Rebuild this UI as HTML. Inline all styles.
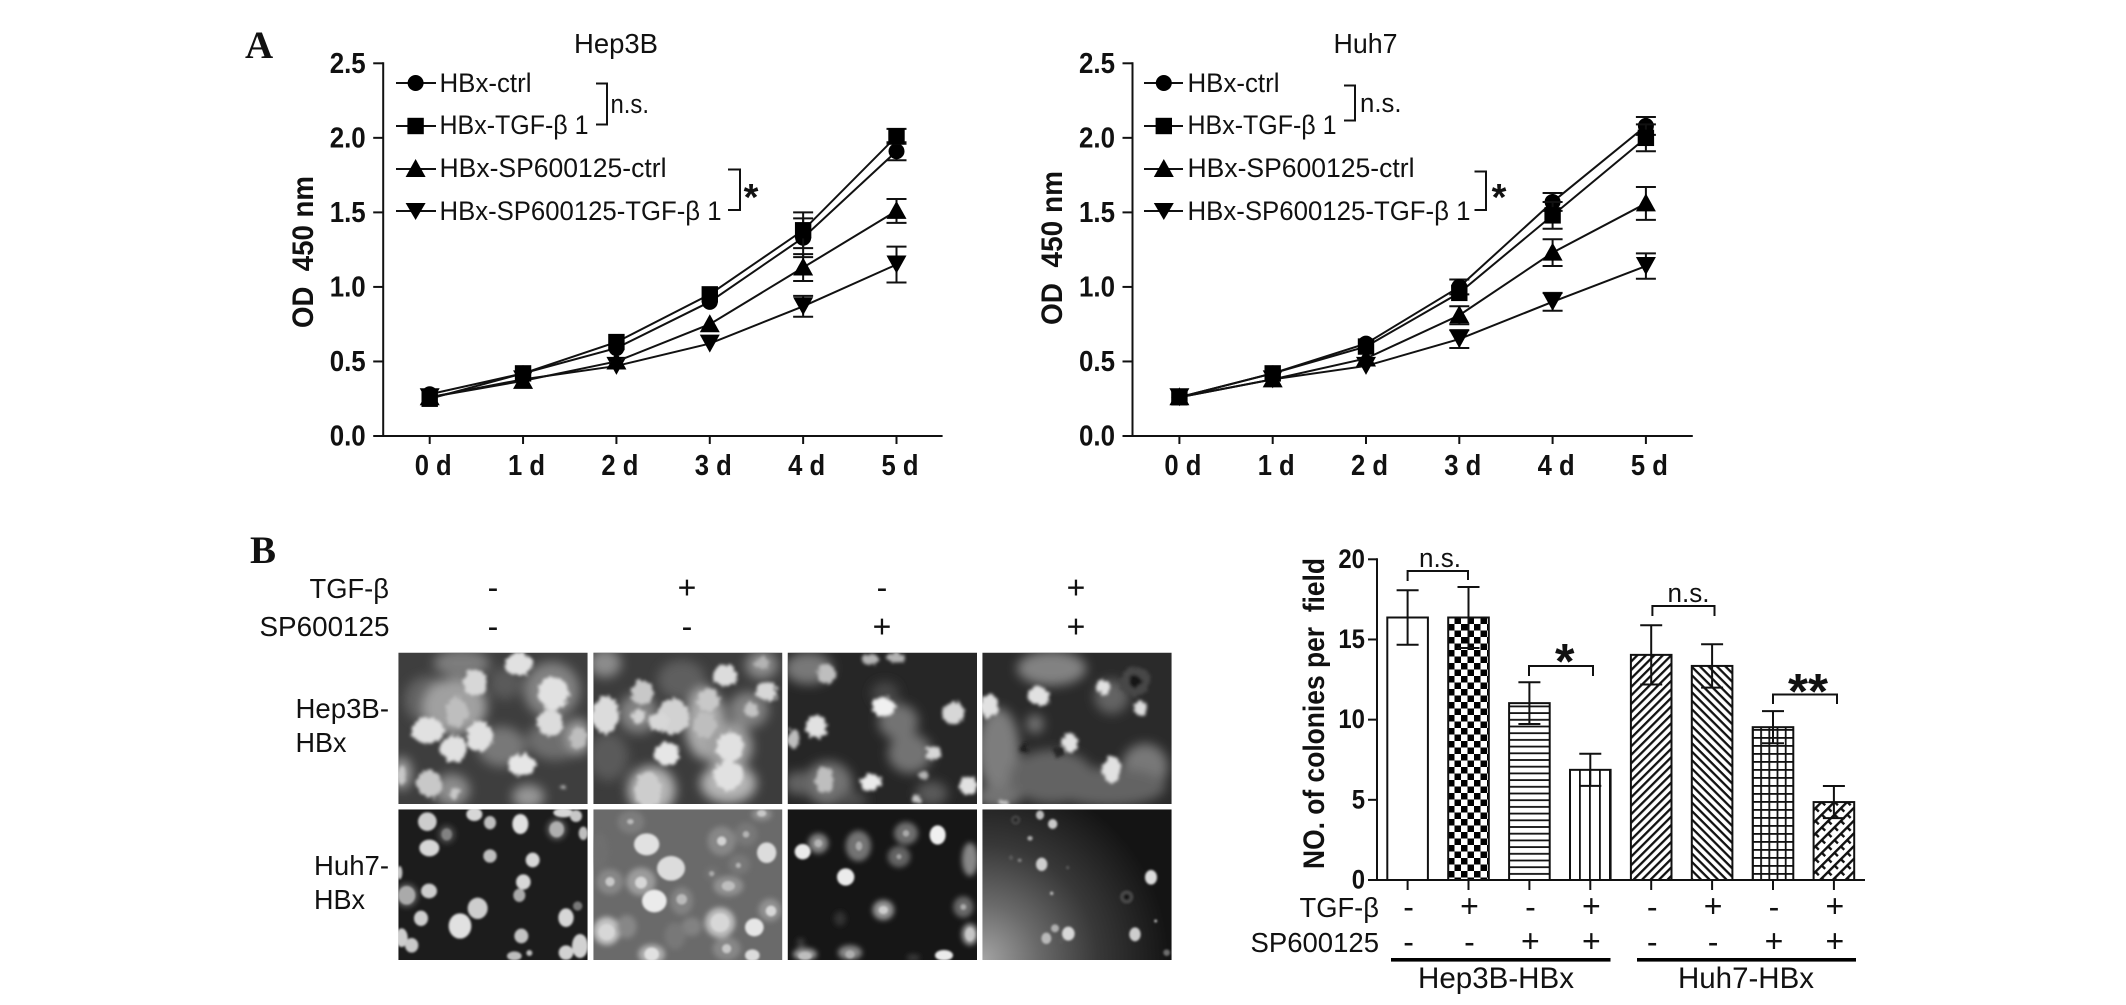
<!DOCTYPE html>
<html lang="en">
<head>
<meta charset="utf-8">
<title>HBx TGF-β proliferation and colony formation</title>
<style>
html,body{margin:0;padding:0;background:#fff;}
svg{display:block;}
text{font-family:"Liberation Sans",sans-serif;fill:#111;}
.b{font-weight:700;}
.serif{font-family:"Liberation Serif",serif;font-weight:700;}
.ax{stroke:#111;stroke-width:2;fill:none;}
</style>
</head>
<body>
<svg id="fig" xmlns="http://www.w3.org/2000/svg" width="2126" height="1005" viewBox="0 0 2126 1005">
<defs>
<filter id="soft" x="-60%" y="-60%" width="220%" height="220%"><feGaussianBlur stdDeviation="17"/></filter>
<filter id="soft2" x="-60%" y="-60%" width="220%" height="220%"><feGaussianBlur stdDeviation="8"/></filter>
<filter id="crisp" x="-40%" y="-40%" width="180%" height="180%"><feGaussianBlur stdDeviation="3.5"/></filter>
<filter id="rough" x="-20%" y="-20%" width="140%" height="140%">
  <feTurbulence type="fractalNoise" baseFrequency=".07" numOctaves="2" seed="4" result="n"/>
  <feDisplacementMap in="SourceGraphic" in2="n" scale="24" xChannelSelector="R" yChannelSelector="G"/>
  <feGaussianBlur stdDeviation="5"/>
</filter>
<radialGradient id="p8bg" gradientUnits="userSpaceOnUse" cx="592" cy="462" r="560">
<stop offset="0" stop-color="#a4a4a4"/><stop offset=".3" stop-color="#6a6a6a"/><stop offset=".62" stop-color="#383838"/><stop offset="1" stop-color="#141414"/>
</radialGradient>
<pattern id="pat-check" patternUnits="userSpaceOnUse" x="1448" width="13" height="13"><rect width="13" height="13" fill="#fff"/><rect width="6.5" height="6.5" fill="#000"/><rect x="6.5" y="6.5" width="6.5" height="6.5" fill="#000"/></pattern>
<pattern id="pat-h" patternUnits="userSpaceOnUse" width="10" height="6.7"><rect width="10" height="6.7" fill="#fff"/><rect y="2" width="10" height="1.8" fill="#111"/></pattern>
<pattern id="pat-v" patternUnits="userSpaceOnUse" x="1579" width="10" height="10"><rect width="10" height="10" fill="#fff"/><rect x="0" width="1.8" height="10" fill="#111"/></pattern>
<pattern id="pat-fd" patternUnits="userSpaceOnUse" width="6" height="6" patternTransform="rotate(-45)"><rect width="6" height="6" fill="#fff"/><rect y="0" width="6" height="2.3" fill="#111"/></pattern>
<pattern id="pat-bd" patternUnits="userSpaceOnUse" width="6" height="6" patternTransform="rotate(45)"><rect width="6" height="6" fill="#fff"/><rect y="0" width="6" height="2.3" fill="#111"/></pattern>
<pattern id="pat-grid" patternUnits="userSpaceOnUse" x="1752" y="1" width="8.2" height="8"><rect width="8.2" height="8" fill="#fff"/><rect width="1.8" height="8" fill="#111"/><rect width="8.2" height="1.8" fill="#111"/></pattern>
<pattern id="pat-cross" patternUnits="userSpaceOnUse" width="9" height="9" patternTransform="rotate(-45)"><rect width="9" height="9" fill="#fff"/><rect width="9" height="2.4" fill="#111"/><rect x="0" y="0" width="2.4" height="6" fill="#111"/></pattern>
</defs>

<text class="serif" x="245" y="58" font-size="39">A</text>
<text class="serif" x="250" y="563" font-size="39">B</text>

<g id="hep3b-chart">
  <text x="574" y="53" font-size="28" textLength="84" lengthAdjust="spacingAndGlyphs">Hep3B</text>
  <text class="b" transform="translate(313,252) rotate(-90)" text-anchor="middle" font-size="30" textLength="152" lengthAdjust="spacingAndGlyphs" xml:space="preserve">OD  450 nm</text>
  <g>
    <line class="ax" x1="396" x2="436" y1="83" y2="83"/><circle cx="415.6" cy="83" r="8" fill="#000"/>
    <text x="439.5" y="92" font-size="27" textLength="92" lengthAdjust="spacingAndGlyphs">HBx-ctrl</text>
    <line class="ax" x1="396" x2="436" y1="126" y2="126"/><rect x="407.4" y="117.8" width="16.4" height="16.4" fill="#000"/>
    <text x="439.5" y="134" font-size="27" textLength="149" lengthAdjust="spacingAndGlyphs">HBx-TGF-β 1</text>
    <line class="ax" x1="396" x2="436" y1="169" y2="169"/><polygon points="415.6,159 425.6,177 405.6,177" fill="#000"/>
    <text x="439.5" y="177" font-size="27" textLength="227" lengthAdjust="spacingAndGlyphs">HBx-SP600125-ctrl</text>
    <line class="ax" x1="396" x2="436" y1="211" y2="211"/><polygon points="405.6,203 425.6,203 415.6,220" fill="#000"/>
    <text x="439.5" y="220" font-size="27" textLength="282" lengthAdjust="spacingAndGlyphs">HBx-SP600125-TGF-β 1</text>
    <path class="ax" d="M596 83.5H607V124.5H596"/>
    <text x="610.5" y="113" font-size="27" textLength="38.5" lengthAdjust="spacingAndGlyphs">n.s.</text>
    <path class="ax" d="M728 169.5H740V210H728"/>
    <text class="b" x="751" y="210" font-size="38" text-anchor="middle">*</text>
  </g>
</g>

<g id="huh7-chart">
  <text x="1333.5" y="53" font-size="28" textLength="64" lengthAdjust="spacingAndGlyphs">Huh7</text>
  <text class="b" transform="translate(1062,248) rotate(-90)" text-anchor="middle" font-size="30" textLength="154" lengthAdjust="spacingAndGlyphs" xml:space="preserve">OD  450 nm</text>
  <g>
    <line class="ax" x1="1144" x2="1183" y1="83" y2="83"/><circle cx="1163.8" cy="83" r="8" fill="#000"/>
    <text x="1187.5" y="92" font-size="27" textLength="92" lengthAdjust="spacingAndGlyphs">HBx-ctrl</text>
    <line class="ax" x1="1144" x2="1183" y1="126" y2="126"/><rect x="1155.6" y="117.8" width="16.4" height="16.4" fill="#000"/>
    <text x="1187.5" y="134" font-size="27" textLength="149" lengthAdjust="spacingAndGlyphs">HBx-TGF-β 1</text>
    <line class="ax" x1="1144" x2="1183" y1="169" y2="169"/><polygon points="1163.8,159 1173.8,177 1153.8,177" fill="#000"/>
    <text x="1187.5" y="177" font-size="27" textLength="227" lengthAdjust="spacingAndGlyphs">HBx-SP600125-ctrl</text>
    <line class="ax" x1="1144" x2="1183" y1="211" y2="211"/><polygon points="1153.8,203 1173.8,203 1163.8,220" fill="#000"/>
    <text x="1187.5" y="220" font-size="27" textLength="283" lengthAdjust="spacingAndGlyphs">HBx-SP600125-TGF-β 1</text>
    <path class="ax" d="M1344 85.5H1355V120.5H1344"/>
    <text x="1360" y="112" font-size="27" textLength="41.5" lengthAdjust="spacingAndGlyphs">n.s.</text>
    <path class="ax" d="M1474.5 171.5H1486V210H1474.5"/>
    <text class="b" x="1499" y="210" font-size="38" text-anchor="middle">*</text>
  </g>
</g>

<g>
  <text x="309.5" y="598" font-size="28" textLength="79.5" lengthAdjust="spacingAndGlyphs">TGF-β</text>
  <text x="259.5" y="636" font-size="28" textLength="130" lengthAdjust="spacingAndGlyphs">SP600125</text>
  <text x="295.5" y="718" font-size="28" textLength="93.5" lengthAdjust="spacingAndGlyphs">Hep3B-</text>
  <text x="295.5" y="752" font-size="28" textLength="51" lengthAdjust="spacingAndGlyphs">HBx</text>
  <text x="314" y="875" font-size="28" textLength="75" lengthAdjust="spacingAndGlyphs">Huh7-</text>
  <text x="314" y="909" font-size="28" textLength="51" lengthAdjust="spacingAndGlyphs">HBx</text>
</g>
<g id="photo-signs"></g>
<g id="photos"></g>

<g id="bar-chart">
  <text class="b" transform="translate(1324,713.5) rotate(-90)" text-anchor="middle" font-size="30" textLength="311" lengthAdjust="spacingAndGlyphs" xml:space="preserve">NO. of colonies per  field</text>
</g>
<g id="bar-annot">
  <path class="ax" d="M1407.6 581V571H1468V580"/>
  <text x="1419" y="567" font-size="27" textLength="42" lengthAdjust="spacingAndGlyphs">n.s.</text>
  <path class="ax" d="M1652.4 616V606H1714.5V616"/>
  <text x="1667.5" y="602" font-size="27" textLength="42" lengthAdjust="spacingAndGlyphs">n.s.</text>
  <path class="ax" d="M1529 676V666H1593V676"/>
  <text class="b" x="1564.7" y="678.5" font-size="50" text-anchor="middle">*</text>
  <path class="ax" d="M1773 704V694.5H1837V704"/>
  <text class="b" x="1788" y="708.5" font-size="50" textLength="40" lengthAdjust="spacingAndGlyphs">**</text>
  <text x="1299.5" y="917" font-size="28" textLength="79.5" lengthAdjust="spacingAndGlyphs">TGF-β</text>
  <text x="1250.5" y="952" font-size="28" textLength="128.5" lengthAdjust="spacingAndGlyphs">SP600125</text>
  <rect x="1391" y="958" width="219.5" height="3.6" fill="#000"/>
  <rect x="1637" y="958" width="219" height="3.6" fill="#000"/>
  <text x="1418" y="988" font-size="30" textLength="156" lengthAdjust="spacingAndGlyphs">Hep3B-HBx</text>
  <text x="1678" y="988" font-size="30" textLength="136" lengthAdjust="spacingAndGlyphs">Huh7-HBx</text>
</g>

<script>
// ---- line chart data ----
const days = ['0 d','1 d','2 d','3 d','4 d','5 d'];
const odTicks = [0,0.5,1,1.5,2,2.5];
const odTickLabels = ['0.0','0.5','1.0','1.5','2.0','2.5'];

const hepCtrl   = [0.28,0.42,0.59,0.90,1.33,1.91];
const hepTgf    = [0.25,0.42,0.63,0.95,1.38,2.01];
const hepSp     = [0.26,0.37,0.50,0.75,1.13,1.51];
const hepSpTgf  = [0.26,0.38,0.47,0.62,0.87,1.15];
const hepCtrlErr  = [0,0,0,0,0.13,0.06];
const hepTgfErr   = [0,0,0,0,0.12,0.05];
const hepSpErr    = [0,0,0,0,0.09,0.08];
const hepSpTgfErr = [0,0,0,0,0.07,0.12];

const huhCtrl   = [0.26,0.42,0.62,1.00,1.57,2.08];
const huhTgf    = [0.26,0.42,0.60,0.96,1.48,2.00];
const huhSp     = [0.26,0.38,0.52,0.81,1.23,1.56];
const huhSpTgf  = [0.26,0.38,0.47,0.65,0.90,1.14];
const huhCtrlErr  = [0,0,0,0.05,0.06,0.06];
const huhTgfErr   = [0,0,0,0,0.09,0.09];
const huhSpErr    = [0,0,0,0.06,0.09,0.11];
const huhSpTgfErr = [0,0,0,0.06,0.06,0.085];

// ---- bar chart data ----
const barNames = ['hep3b-ctrl','hep3b-tgf','hep3b-sp','hep3b-sp-tgf','huh7-ctrl','huh7-tgf','huh7-sp','huh7-sp-tgf'];
const barValues = [16.37,16.37,11.03,6.87,14.04,13.35,9.53,4.86];
const barErrors = [1.7,1.9,1.3,1.0,1.85,1.35,1.0,1.0];
const barPatterns = ['#fff','url(#pat-check)','url(#pat-h)','url(#pat-v)','url(#pat-fd)','url(#pat-bd)','url(#pat-grid)','url(#pat-cross)'];
const barTicks = [0,5,10,15,20];
const tgfSigns = ['-','+','-','+','-','+','-','+'];
const spSigns  = ['-','-','+','+','-','-','+','+'];

// ---- photo blobs: cx, cy, rx, ry, grey (coordinates in 3x crop space) ----
const photoFrames = [
 {n:'hep3b-ctrl',ox:395,oy:650,x:10,y:8,w:568,h:454,bg:'#3e3e3e',sf:'soft',cf:'rough',k:1.2,kc:1.1,
  soft:[[200,40,70,35,125],[470,120,70,70,130],[100,150,60,60,100],[320,290,60,50,120],[480,270,70,50,110],[180,170,80,70,160],[170,420,45,40,140],[400,440,40,30,150],[20,370,25,40,160],[550,260,30,45,160],[330,100,40,40,90]],
  crisp:[[372,42,38,32,225],[240,100,34,36,215],[475,130,42,45,225],[465,218,36,36,220],[98,242,44,36,225],[176,296,36,36,225],[253,258,36,42,225],[380,345,38,30,230],[103,402,34,38,200],[185,185,30,40,190],[550,265,22,30,190],[178,430,14,14,200],[505,412,6,6,200],[20,375,12,25,200]]},
 {n:'hep3b-tgf',ox:395,oy:650,x:595,y:8,w:567,h:454,bg:'#3c3c3c',sf:'soft',cf:'rough',k:1.2,kc:1.1,
  soft:[[860,90,60,50,95],[630,40,40,35,140],[1100,45,40,35,140],[770,420,60,60,180],[1000,400,70,50,180],[930,220,50,90,170],[1060,180,50,45,130],[640,320,50,60,90],[730,190,50,50,130],[1000,290,60,60,160]],
  crisp:[[632,195,36,52,220],[742,128,30,36,200],[990,77,34,28,220],[1115,125,28,28,215],[835,200,44,50,210],[790,215,30,25,215],[730,198,18,20,210],[940,150,30,32,200],[930,225,32,35,190],[815,312,34,32,230],[1005,290,36,40,225],[1000,375,40,40,225],[1070,180,18,20,195],[760,420,35,50,205],[1100,40,20,15,180]]},
 {n:'hep3b-sp',ox:785,oy:650,x:8,y:8,w:568,h:454,bg:'#262626',sf:'soft',cf:'rough',k:1.2,kc:1.05,
  soft:[[70,55,60,40,120],[340,215,50,45,115],[375,310,55,50,115],[130,400,60,55,115],[40,400,35,30,100],[300,130,35,30,70],[440,430,40,30,90],[200,450,40,20,80]],
  crisp:[[125,70,26,28,190],[255,28,24,16,180],[333,22,26,14,180],[297,170,32,28,240],[505,190,32,32,215],[95,230,30,32,225],[25,265,16,28,190],[445,310,22,18,215],[118,390,26,38,190],[415,375,14,12,180],[258,397,30,24,235],[550,407,26,28,225],[395,448,14,12,200]]},
 {n:'hep3b-sp-tgf',ox:785,oy:650,x:592,y:8,w:568,h:454,bg:'#2a2a2a',sf:'soft',cf:'rough',k:1.15,kc:1.05,
  soft:[[800,55,90,45,130],[640,300,55,110,125],[800,380,110,70,100],[1080,350,60,60,120],[970,410,150,50,100],[980,140,45,45,100],[750,222,22,24,120],[640,440,60,30,115]],
  crisp:[[1050,95,42,42,70],[1050,95,18,16,18],[715,297,12,12,30],[820,305,14,14,40],[762,138,32,27,225],[956,110,20,20,225],[1068,175,17,22,220],[612,168,26,34,225],[855,278,25,25,225],[980,358,26,38,225],[655,455,14,8,210]]},
 {n:'huh7-ctrl',ox:395,oy:806,x:10,y:10,w:568,h:452,bg:'#1c1c1c',sf:'soft2',cf:'crisp',k:1,kc:1,
  soft:[[35,268,34,36,90],[155,85,26,28,70],[485,70,30,32,90]],
  crisp:[[97,47,28,28,205],[155,85,16,18,130],[238,25,24,20,215],[285,50,18,20,190],[376,54,24,30,225],[103,126,30,25,215],[285,150,20,20,190],[413,162,21,22,215],[485,70,22,24,175],[565,82,14,20,190],[505,20,30,14,215],[543,30,18,18,200],[14,200,8,20,200],[35,268,26,28,170],[102,255,24,22,205],[385,228,22,23,215],[373,268,18,20,170],[248,307,30,32,205],[548,300,14,14,120],[78,337,21,23,205],[513,335,23,28,215],[195,360,34,38,225],[20,395,18,28,205],[50,418,20,22,200],[379,390,21,22,195],[513,440,22,22,210],[555,420,24,36,210],[358,450,22,14,190],[403,441,9,9,190]]},
 {n:'huh7-tgf',ox:395,oy:806,x:595,y:10,w:567,h:452,bg:'#6a6a6a',sf:'soft2',cf:'crisp',k:1,kc:1,
  soft:[[708,48,40,35,125],[980,105,42,44,135],[1053,85,34,35,120],[1033,175,32,30,120],[950,203,20,20,115],[1000,240,45,30,145],[645,227,40,38,135],[738,227,44,42,155],[860,285,34,42,130],[1125,312,34,34,145],[635,375,40,42,195],[695,362,30,35,135],[890,362,30,28,130],[975,350,45,45,190],[840,390,32,40,120],[995,428,42,35,135],[770,445,40,30,175],[1100,25,30,18,145],[615,140,25,60,110]],
  crisp:[[755,115,38,33,225],[828,187,42,37,220],[1115,140,29,31,220],[778,285,37,34,235],[1078,364,28,27,230],[1072,448,22,18,220],[980,105,14,14,210],[1053,85,10,10,180],[1030,178,8,8,180],[645,227,14,14,200],[738,230,18,18,215],[860,280,16,16,185],[1128,315,16,16,215],[975,350,28,28,215],[635,378,24,24,215],[1000,240,20,15,190],[995,428,14,14,200],[770,445,22,20,225],[950,203,8,8,170],[1100,22,14,10,200],[706,47,10,8,185]]},
 {n:'huh7-sp',ox:785,oy:806,x:8,y:10,w:568,h:452,bg:'#161616',sf:'soft2',cf:'crisp',k:1,kc:1,
  soft:[[100,112,30,30,130],[220,120,38,46,115],[363,82,36,34,110],[342,152,34,32,100],[295,312,32,30,150],[535,303,30,32,105],[555,160,24,50,135],[555,385,24,32,165],[195,440,36,22,135],[60,445,36,18,160],[165,338,18,22,50],[47,410,12,14,60],[385,455,20,10,60]],
  crisp:[[53,137,24,23,235],[458,87,24,29,240],[182,213,26,26,235],[100,112,12,12,180],[222,120,10,14,170],[363,82,10,10,170],[342,152,8,8,160],[295,312,14,12,205],[555,385,14,20,200],[60,450,20,12,190],[195,445,14,12,175],[477,448,27,16,235],[535,303,9,9,170]]},
 {n:'huh7-sp-tgf',ox:785,oy:806,x:592,y:10,w:568,h:452,bg:'url(#p8bg)',sf:'soft2',cf:'crisp',k:1,kc:1,
  soft:[],
  crisp:[[765,27,12,14,190],[803,54,14,15,200],[770,175,17,20,205],[1098,214,18,22,220],[1050,385,17,21,205],[850,383,19,21,215],[784,397,15,17,185],[810,367,12,12,175],[735,97,8,7,170],[800,262,5,5,190],[1112,345,4,4,220],[704,163,6,5,130],[678,155,6,7,90],[848,185,5,5,90],[826,407,7,6,90],[1145,440,10,10,110],[1025,273,20,20,70],[1025,273,9,9,25],[692,42,14,14,70],[692,42,7,7,40]]}
];

const SVGNS = 'http://www.w3.org/2000/svg';
function mk(parent, tag, attrs, txt) {
  const e = document.createElementNS(SVGNS, tag);
  for (const k in attrs) e.setAttribute(k, attrs[k]);
  if (txt !== undefined) e.textContent = txt;
  parent.appendChild(e);
  return e;
}

function drawLineChart(root, prefix, cfg, seriesList) {
  const yScale = v => cfg.y0 - (v / cfg.yMax) * (cfg.y0 - cfg.yTop);
  const xScale = i => cfg.x0 + i * cfg.step;
  const yAxis = mk(root, 'line', {class:'ax', x1:cfg.axX, x2:cfg.axX, y1:cfg.yTop - 1, y2:cfg.y0 + 1});
  
  
  const xAxis = mk(root, 'line', {class:'ax', x1:cfg.axX - 1, x2:cfg.axEnd, y1:cfg.y0, y2:cfg.y0});
  
  
  odTicks.forEach((t, i) => {
    const y = yScale(t);
    const tk = mk(root, 'line', {class:'ax', x1:cfg.axX - 10, x2:cfg.axX, y1:y, y2:y});
    
    
    const lb = mk(root, 'text', {class:'b', x:cfg.axX - 53.5, y:y + 9.5, 'font-size':29, textLength:36, lengthAdjust:'spacingAndGlyphs'}, odTickLabels[i]);
    
    
  });
  days.forEach((d, i) => {
    const x = xScale(i);
    const tk = mk(root, 'line', {class:'ax', x1:x, x2:x, y1:cfg.y0, y2:cfg.y0 + 8});
    
    
    const lb = mk(root, 'text', {class:'b', x:x - 15, y:475, 'font-size':29, textLength:37, lengthAdjust:'spacingAndGlyphs'}, d);
    
    
  });
  seriesList.forEach(s => {
    const g = mk(root, 'g', {});
    
    
    const pts = s.values.map((v, i) => xScale(i) + ',' + yScale(v)).join(' ');
    const ln = mk(g, 'polyline', {class:'ax', points:pts});
    
    
    s.values.forEach((v, i) => {
      const x = xScale(i), y = yScale(v), e = s.err[i];
      if (e > 0) {
        const eb = mk(g, 'path', {class:'ax', d:`M${x - 10} ${yScale(v + e)}H${x + 10}M${x} ${yScale(v + e)}V${yScale(v - e)}M${x - 10} ${yScale(v - e)}H${x + 10}`});
        
        
      }
      let m;
      if (s.shape === 'circle') m = mk(g, 'circle', {cx:x, cy:y, r:8, fill:'#000'});
      else if (s.shape === 'square') m = mk(g, 'rect', {x:x - 8.2, y:y - 8.2, width:16.4, height:16.4, fill:'#000'});
      else if (s.shape === 'up') m = mk(g, 'polygon', {points:`${x},${y - 10} ${x + 10},${y + 8} ${x - 10},${y + 8}`, fill:'#000'});
      else m = mk(g, 'polygon', {points:`${x - 10},${y - 9} ${x + 10},${y - 9} ${x},${y + 9}`, fill:'#000'});
      
      
    });
  });
}

drawLineChart(document.getElementById('hep3b-chart'), 'hep3b',
  {axX:383.2, axEnd:942.6, x0:429.7, step:93.36, y0:436, yTop:63.3, yMax:2.5},
  [{name:'sp-tgf', values:hepSpTgf, err:hepSpTgfErr, shape:'down'},
   {name:'sp', values:hepSp, err:hepSpErr, shape:'up'},
   {name:'ctrl', values:hepCtrl, err:hepCtrlErr, shape:'circle'},
   {name:'tgf', values:hepTgf, err:hepTgfErr, shape:'square'}]);

drawLineChart(document.getElementById('huh7-chart'), 'huh7',
  {axX:1132.5, axEnd:1692.8, x0:1179.4, step:93.3, y0:436, yTop:63.3, yMax:2.5},
  [{name:'sp-tgf', values:huhSpTgf, err:huhSpTgfErr, shape:'down'},
   {name:'sp', values:huhSp, err:huhSpErr, shape:'up'},
   {name:'ctrl', values:huhCtrl, err:huhCtrlErr, shape:'circle'},
   {name:'tgf', values:huhTgf, err:huhTgfErr, shape:'square'}]);

// ---- bar chart ----
(function () {
  const root = document.getElementById('bar-chart');
  const y0 = 880, yTop = 559.3, yMax = 20;
  const yScale = v => y0 - (v / yMax) * (y0 - yTop);
  const bx0 = 1407.6, bStep = 60.9, bw = 40.6;
  const xScale = i => bx0 + i * bStep;
  barValues.forEach((v, i) => {
    const x = xScale(i), y = yScale(v);
    const r = mk(root, 'rect', {x:x - bw / 2, y:y, width:bw, height:y0 - y, fill:barPatterns[i], stroke:'#111', 'stroke-width':2});
    
    
    const e = barErrors[i];
    const eb = mk(root, 'path', {class:'ax', d:`M${x - 11} ${yScale(v + e)}H${x + 11}M${x} ${yScale(v + e)}V${yScale(v - e)}M${x - 11} ${yScale(v - e)}H${x + 11}`});
    
    
    const tk = mk(root, 'line', {class:'ax', x1:x, x2:x, y1:y0, y2:y0 + 10});
    
    
    const s1 = mk(root, 'text', {x:x + 1, y:tgfSigns[i] === '+' ? 917 : 918, 'font-size':32, 'text-anchor':'middle'}, tgfSigns[i]);
    
    
    const s2 = mk(root, 'text', {x:x + 1, y:spSigns[i] === '+' ? 952 : 953, 'font-size':32, 'text-anchor':'middle'}, spSigns[i]);
    
    
  });
  const ya = mk(root, 'line', {class:'ax', x1:1377, x2:1377, y1:yTop - 1, y2:y0});
  
  
  const xa = mk(root, 'line', {class:'ax', x1:1368, x2:1865, y1:y0, y2:y0});
  
  
  barTicks.forEach(t => {
    const y = yScale(t);
    const tk = mk(root, 'line', {class:'ax', x1:1368, x2:1377, y1:y, y2:y});
    
    
    const s = String(t);
    const w = s.length * 13.3;
    const lb = mk(root, 'text', {class:'b', x:1365 - w, y:y + 8.5, 'font-size':27, textLength:w, lengthAdjust:'spacingAndGlyphs'}, s);
    
    
  });
})();

// ---- photo treatment signs ----
(function () {
  const root = document.getElementById('photo-signs');
  const cols = [493, 687, 882, 1076];
  cols.forEach((x, i) => {
    const a = mk(root, 'text', {x:x, y:598.5, 'font-size':32, 'text-anchor':'middle'}, tgfSigns[i]);
    
    
    const b = mk(root, 'text', {x:x, y:637.5, 'font-size':32, 'text-anchor':'middle'}, spSigns[i]);
    
    
  });
})();

// ---- colony photos ----
(function () {
  const root = document.getElementById('photos');
  const defs = document.querySelector('defs');
  photoFrames.forEach((p, i) => {
    const clip = mk(defs, 'clipPath', {id:'clip' + i});
    mk(clip, 'rect', {x:p.x, y:p.y, width:p.w, height:p.h});
    const g = mk(root, 'g', {transform:`translate(${p.ox},${p.oy}) scale(${1/3})`, 'clip-path':`url(#clip${i})`});
    
    
    mk(g, 'rect', {x:p.x, y:p.y, width:p.w, height:p.h, fill:p.bg});
    const sg = mk(g, 'g', {filter:'url(#' + p.sf + ')'});
    p.soft.forEach(b => {
      const c = 'rgb(' + b[4] + ',' + b[4] + ',' + b[4] + ')';
      mk(sg, 'ellipse', {cx:b[0], cy:b[1], rx:b[2] * p.k, ry:b[3] * p.k, fill:c});
    });
    const cg = mk(g, 'g', {filter:'url(#' + p.cf + ')'});
    p.crisp.forEach(b => {
      const c = 'rgb(' + b[4] + ',' + b[4] + ',' + b[4] + ')';
      mk(cg, 'ellipse', {cx:b[0], cy:b[1], rx:b[2] * p.kc, ry:b[3] * p.kc, fill:c});
    });
  });
})();
</script>
</svg>
</body>
</html>
